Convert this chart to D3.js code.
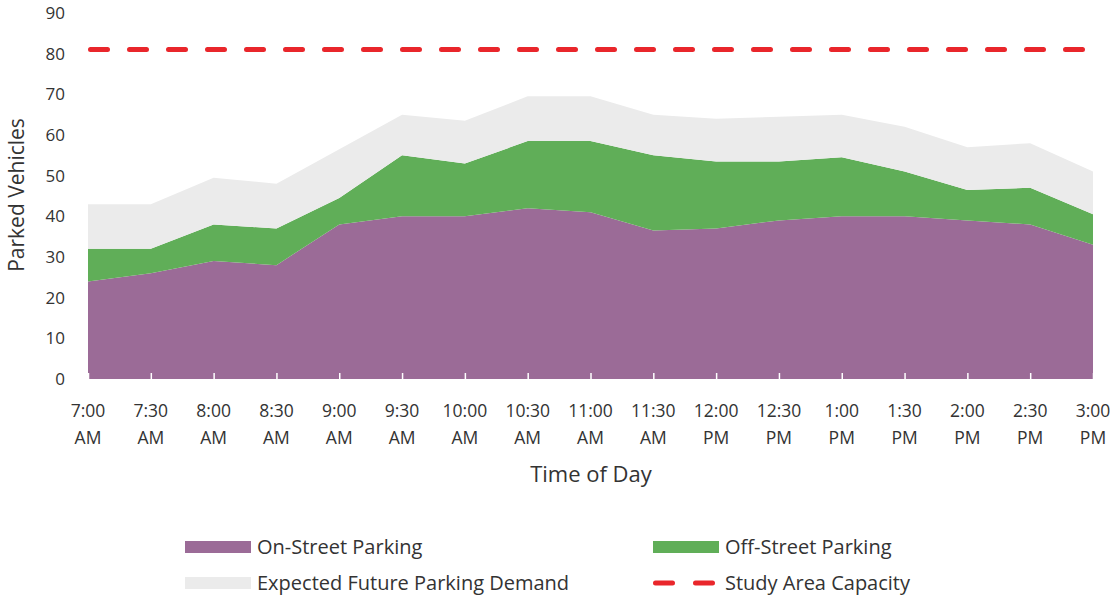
<!DOCTYPE html>
<html>
<head>
<meta charset="utf-8">
<script src="https://cdn.jsdelivr.net/npm/d3@7"></script>
<style>
  body { margin: 0; background: #fff; }
  svg { font-family: "Open Sans", Lato, sans-serif; }
</style>
</head>
<body>
<div class="chart"></div>
<script>
// data
var times = ["7:00 AM", "7:30 AM", "8:00 AM", "8:30 AM", "9:00 AM", "9:30 AM", "10:00 AM", "10:30 AM",
  "11:00 AM", "11:30 AM", "12:00 PM", "12:30 PM", "1:00 PM", "1:30 PM", "2:00 PM", "2:30 PM", "3:00 PM"];
var onStreet = [24, 26, 29, 28, 38, 40, 40, 42, 41, 36.5, 37, 39, 40, 40, 39, 38, 33];
var offStreet = [8, 6, 9, 9, 6.5, 15, 13, 16.5, 17.5, 18.5, 16.5, 14.5, 14.5, 11, 7.5, 9, 7.5];
var futureDemand = [11, 11, 11.5, 11, 12, 10, 10.5, 11, 11, 10, 10.5, 11, 10.5, 11, 10.5, 11, 10.5];
var capacity = 81;
var yTicks = [0, 10, 20, 30, 40, 50, 60, 70, 80, 90];

var W = 1120, H = 598;
var plotLeft = 88, plotRight = 1093, plotTop = 13, plotBottom = 379;

var rows = times.map(function (t, i) {
  return { time: t, on: onStreet[i], off: offStreet[i], future: futureDemand[i] };
});

var svg = d3.select(".chart").append("svg")
  .attr("width", W).attr("height", H);

var x = d3.scalePoint().domain(times).range([plotLeft, plotRight]);
var y = d3.scaleLinear().domain([0, 90]).range([plotBottom, plotTop]);

var colors = { on: "#9b6b97", off: "#60ae58", future: "#ebebeb" };
var red = "#e9262b";

//stack the areas
var series = d3.stack().keys(["on", "off", "future"])(rows);
var area = d3.area()
  .x(function (d) { return x(d.data.time) })
  .y0(function (d) { return y(d[0]) })
  .y1(function (d) { return y(d[1]) });

svg.selectAll("path.layer")
  .data(series)
  .join("path")
  .attr("class", "layer")
  .attr("fill", function (d) { return colors[d.key] })
  .attr("d", area);

//small white ticks along the base
var xTickAxis = svg.append("g")
  .attr("transform", "translate(0," + plotBottom + ")")
  .call(d3.axisBottom(x).tickSize(-6).tickFormat(""));
xTickAxis.select(".domain").remove();
xTickAxis.selectAll("line").attr("stroke", "#fff").attr("stroke-width", 1.5);

//capacity line
svg.append("line")
  .attr("x1", plotLeft + 2.5).attr("x2", plotRight)
  .attr("y1", y(capacity)).attr("y2", y(capacity))
  .attr("stroke", red)
  .attr("stroke-width", 5)
  .attr("stroke-linecap", "round")
  .attr("stroke-dasharray", "17,22");

//y axis
var yAxis = svg.append("g")
  .attr("transform", "translate(" + plotLeft + ",0)")
  .call(d3.axisLeft(y).tickValues(yTicks).tickSize(0).tickPadding(23));
yAxis.select(".domain").remove();
yAxis.selectAll("text")
  .attr("font-size", "17px")
  .attr("fill", "#333")
  .attr("font-family", "'Open Sans', sans-serif");

svg.append("text")
  .attr("transform", "translate(24,195) rotate(-90)")
  .attr("text-anchor", "middle")
  .attr("font-size", "21px")
  .attr("fill", "#333")
  .text("Parked Vehicles");

//x labels in two lines
var xLabels = svg.append("g");
xLabels.selectAll("text")
  .data(times)
  .join("text")
  .attr("text-anchor", "middle")
  .attr("font-size", "17.5px")
  .attr("fill", "#333")
  .each(function (d) {
    var parts = d.split(" ");
    var t = d3.select(this);
    t.append("tspan").attr("x", x(d)).attr("y", 417).text(parts[0]);
    t.append("tspan").attr("x", x(d)).attr("y", 444).text(parts[1]);
  });

svg.append("text")
  .attr("x", 591).attr("y", 482)
  .attr("text-anchor", "middle")
  .attr("font-size", "22px")
  .attr("fill", "#333")
  .text("Time of Day");

//legend
var legend = [
  { name: "On-Street Parking", type: "area", color: colors.on, x: 185, y: 547 },
  { name: "Off-Street Parking", type: "area", color: colors.off, x: 653, y: 547 },
  { name: "Expected Future Parking Demand", type: "area", color: colors.future, x: 185, y: 583 },
  { name: "Study Area Capacity", type: "line", color: red, x: 653, y: 583 }
];
var lg = svg.selectAll("g.legend")
  .data(legend)
  .join("g")
  .attr("class", "legend")
  .attr("transform", function (d) { return "translate(" + d.x + "," + d.y + ")" });

lg.filter(function (d) { return d.type == "area" })
  .append("rect")
  .attr("x", 0).attr("y", -6)
  .attr("width", 66).attr("height", 12)
  .attr("fill", function (d) { return d.color });

lg.filter(function (d) { return d.type == "line" })
  .append("line")
  .attr("x1", 2.5).attr("x2", 62)
  .attr("y1", 0).attr("y2", 0)
  .attr("stroke", function (d) { return d.color })
  .attr("stroke-width", 5)
  .attr("stroke-linecap", "round")
  .attr("stroke-dasharray", "17,23");

lg.append("text")
  .attr("x", 72).attr("y", 7)
  .attr("font-size", "20px")
  .attr("fill", "#333")
  .text(function (d) { return d.name });
</script>
</body>
</html>
